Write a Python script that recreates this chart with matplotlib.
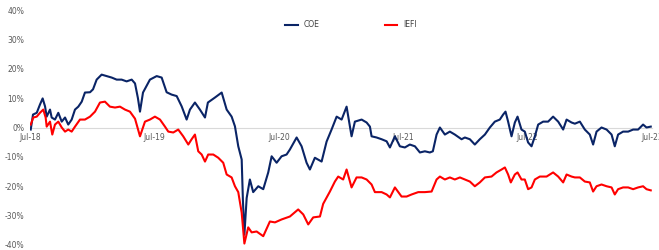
import matplotlib.pyplot as plt

# months since Jul-18 and cumulative return (%)
coe_months = [0.07, 0.29, 0.65, 0.96, 1.22, 1.45, 1.61, 1.93, 2.09, 2.41, 2.73, 3.06, 3.38, 3.69,
              4.02, 4.34, 4.66, 4.99, 5.30, 5.79, 6.08, 6.43, 6.91, 7.40, 7.88, 8.36, 8.84, 9.32,
              9.81, 10.13, 10.41, 10.61, 10.90, 11.57, 12.22, 12.70, 13.18, 13.66, 14.15, 14.63,
              15.11, 15.43, 15.91, 16.39, 16.88, 17.16, 17.84, 18.49, 18.97, 19.45, 19.77, 20.09,
              20.42, 20.54, 20.68, 20.90, 21.21, 21.53, 22.02, 22.50, 22.98, 23.31, 23.79, 24.27,
              24.75, 25.07, 25.72, 26.20, 26.68, 27.00, 27.48, 28.13, 28.61, 29.09, 29.58, 30.06,
              30.54, 31.02, 31.34, 31.99, 32.47, 32.79, 32.95, 33.43, 33.92, 34.40, 34.72, 35.20,
              35.68, 36.16, 36.64, 37.13, 37.61, 38.09, 38.57, 38.86, 39.22, 39.54, 40.02, 40.50,
              40.98, 41.63, 41.95, 42.43, 42.91, 43.39, 43.88, 44.36, 44.84, 45.32, 45.64, 45.87,
              46.12, 46.45, 46.77, 47.03, 47.41, 47.73, 48.05, 48.38, 48.70, 49.02, 49.50, 49.98,
              50.46, 50.95, 51.43, 51.76, 52.24, 52.56, 53.04, 53.52, 54.00, 54.32, 54.65, 55.13,
              55.62, 56.10, 56.41, 56.73, 57.21, 57.70, 58.18, 58.66, 59.14, 59.47, 59.88]
coe_values = [-0.7, 4.4, 5.0, 7.8, 9.9, 7.2, 3.7, 6.1, 3.4, 2.7, 5.0, 2.0, 3.4, 1.0,
              2.7, 6.1, 7.1, 8.8, 11.9, 12.0, 13.0, 16.3, 18.0, 17.5, 17.0, 16.3, 16.3, 15.7,
              16.3, 15.0, 10.0, 5.4, 11.9, 16.3, 17.5, 17.0, 12.0, 11.2, 10.7, 7.2,
              2.7, 6.1, 8.5, 6.1, 3.4, 8.5, 10.2, 11.9, 6.1, 3.7, 0.4, -6.4,
              -10.9, -25.0, -36.5, -24.0, -17.7, -22.0, -20.0, -21.0, -15.3, -9.8, -12.0, -9.8,
              -9.2, -7.5, -3.4, -6.4, -12.0, -14.3, -10.3, -11.6, -4.8, -0.7, 3.7, 2.7,
              7.1, -3.0, 2.0, 2.7, 1.7, 0.3, -3.0, -3.4, -4.0, -4.7, -6.8, -3.0,
              -6.4, -6.8, -5.8, -6.4, -8.5, -8.1, -8.5, -8.1, -2.4, 0.0, -2.4, -1.4,
              -2.4, -4.0, -3.4, -4.0, -5.8, -4.0, -2.4, 0.0, 2.0, 2.7, 4.4, 5.4,
              2.0, -3.0, 1.7, 3.7, -0.7, -1.4, -5.1, -6.4, -3.0, 1.0, 2.0, 2.0,
              3.7, 2.0, -0.7, 2.7, 1.7, 1.3, 2.0, -0.7, -2.4, -5.8, -1.4, 0.0,
              -0.7, -2.4, -6.4, -2.4, -1.4, -1.4, -0.7, -0.7, 1.0, 0.0, 0.3]

iefi_months = [0.07, 0.32, 0.65, 0.96, 1.28, 1.51, 1.61, 1.93, 2.15, 2.41, 2.73, 3.06, 3.38, 3.69,
               4.02, 4.34, 4.82, 5.30, 5.79, 6.27, 6.75, 7.23, 7.71, 8.20, 8.68, 9.16, 9.64, 10.13,
               10.61, 11.09, 11.57, 12.05, 12.54, 13.02, 13.34, 13.82, 14.30, 14.78, 15.27, 15.59,
               15.91, 16.23, 16.56, 16.88, 17.19, 17.68, 18.16, 18.64, 18.97, 19.45, 19.77, 20.09,
               20.42, 20.68, 21.05, 21.38, 21.86, 22.50, 23.14, 23.63, 24.27, 25.07, 25.87, 26.36,
               26.84, 27.32, 27.97, 28.28, 28.93, 29.41, 29.73, 30.21, 30.54, 31.02, 31.50, 31.99,
               32.47, 32.95, 33.27, 33.92, 34.40, 34.72, 35.20, 35.84, 36.33, 36.81, 37.45, 38.09,
               38.74, 39.22, 39.54, 40.02, 40.50, 40.98, 41.47, 41.95, 42.43, 42.91, 43.39, 43.88,
               44.52, 45.00, 45.49, 45.81, 46.12, 46.38, 46.77, 47.03, 47.41, 47.73, 48.05, 48.38,
               48.70, 49.18, 49.83, 50.46, 50.95, 51.43, 51.76, 52.24, 52.56, 53.04, 53.52, 54.00,
               54.32, 54.65, 55.13, 55.62, 56.10, 56.41, 56.73, 57.21, 57.70, 58.18, 58.66, 59.14,
               59.47, 59.88]
iefi_values = [1.0, 3.4, 3.7, 5.0, 6.1, 3.4, 0.3, 2.0, -2.4, 1.0, 2.0, 0.0, -1.4, -0.7,
               -1.4, 0.3, 2.7, 2.7, 3.7, 5.4, 8.5, 8.8, 7.1, 6.8, 7.1, 6.1, 5.4, 3.0,
               -3.0, 2.0, 2.7, 3.7, 2.7, 0.3, -1.4, -1.7, -0.7, -3.0, -5.8, -4.0,
               -2.4, -8.1, -9.2, -11.6, -9.2, -9.2, -10.3, -12.0, -16.0, -17.0, -20.0, -22.0,
               -29.0, -39.5, -34.0, -35.7, -35.4, -37.0, -32.0, -32.3, -31.3, -30.3, -27.9, -29.6,
               -33.0, -30.6, -30.3, -26.0, -21.8, -18.4, -16.7, -17.7, -14.3, -20.4, -17.0, -17.0,
               -17.7, -19.4, -22.0, -22.0, -22.8, -23.8, -20.4, -23.5, -23.5, -22.8, -22.0, -22.0,
               -21.8, -17.7, -16.7, -17.7, -17.0, -17.7, -17.0, -17.7, -18.4, -20.0, -18.7, -17.0,
               -16.7, -15.3, -14.3, -13.6, -16.0, -18.7, -16.0, -15.3, -17.7, -17.7, -21.0, -20.4,
               -17.7, -16.7, -16.7, -15.3, -16.7, -18.7, -16.0, -16.7, -17.0, -17.0, -18.4, -18.7,
               -21.8, -20.0, -19.4, -20.0, -20.4, -22.8, -21.0, -20.4, -20.4, -21.0, -20.4, -20.0,
               -21.0, -21.4]

tick_months = [0, 12, 24, 36, 48, 60]
tick_labels = ['Jul-18', 'Jul-19', 'Jul-20', 'Jul-21', 'Jul-22', 'Jul-23']
y_ticks = [-40, -30, -20, -10, 0, 10, 20, 30, 40]

fig = plt.figure(figsize=(6.59, 2.5), dpi=100)
ax = fig.add_axes([30 / 659, 0.02, 622 / 659, 0.94])

ax.plot(coe_months, coe_values, color='#0a2466', lw=1.5, label='COE')
ax.plot(iefi_months, iefi_values, color='#ff0000', lw=1.5, label='IEFI')

ax.set_xlim(0, 60)
ax.set_ylim(-40, 40)
ax.set_yticks(y_ticks)
ax.set_yticklabels([f'{t}%' for t in y_ticks])
ax.set_xticks(tick_months)
ax.set_xticklabels(tick_labels)

for s in ['top', 'right', 'left']:
    ax.spines[s].set_visible(False)
ax.spines['bottom'].set_position(('data', 0))
ax.spines['bottom'].set_color('#d9d9d9')
ax.spines['bottom'].set_linewidth(0.8)
ax.spines['bottom'].set_zorder(0)
ax.tick_params(axis='both', length=0, labelsize=5.5, labelcolor='#595959')
ax.tick_params(axis='y', pad=4)
ax.tick_params(axis='x', pad=4)

ax.legend(loc='upper center', bbox_to_anchor=(0.516, 0.985), ncol=2, frameon=False,
          fontsize=5.5, handlelength=1.6, columnspacing=8.5, labelcolor='#404040')

fig.savefig('out.png', dpi=100)
